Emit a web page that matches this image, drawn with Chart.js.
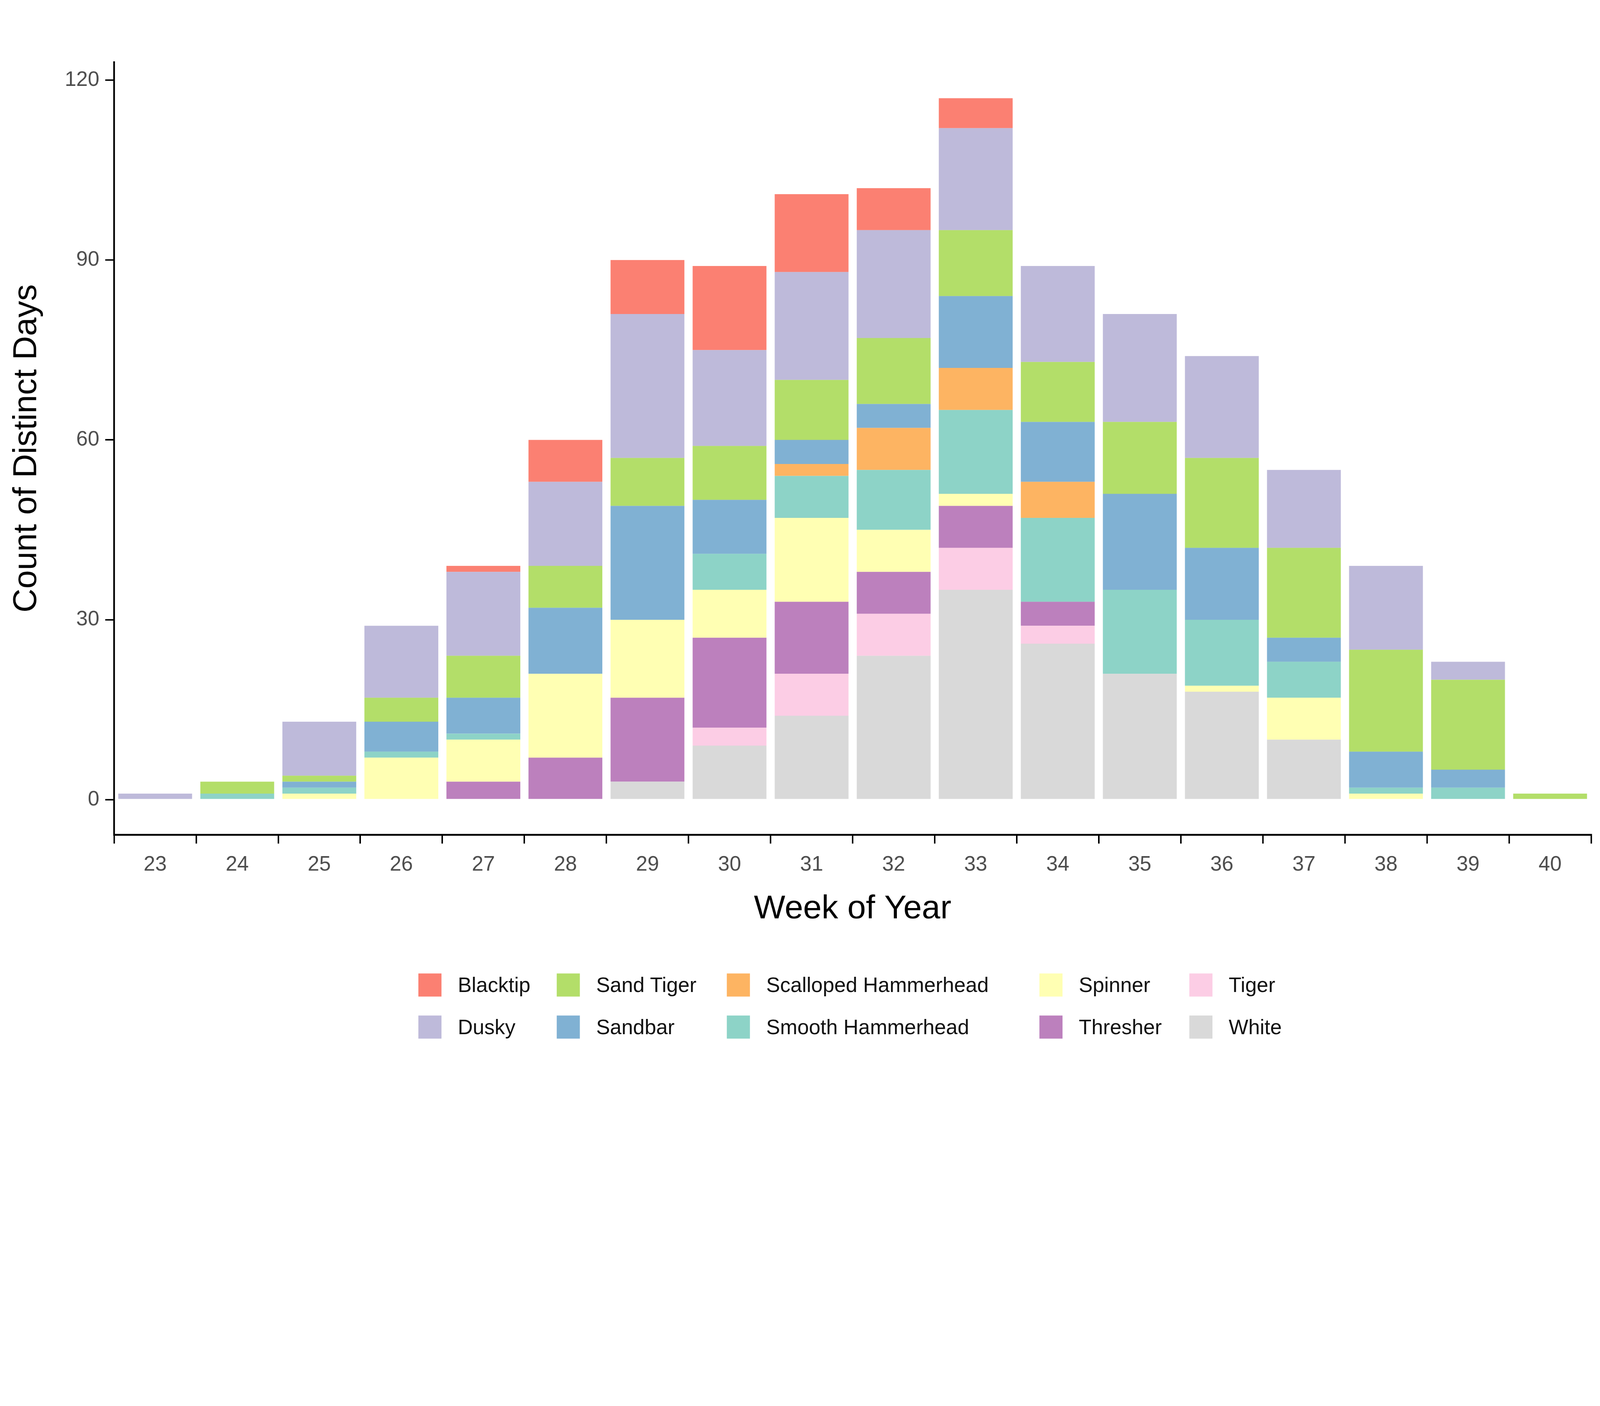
<!DOCTYPE html>
<html><head><meta charset="utf-8">
<script src="https://cdn.jsdelivr.net/npm/chart.js@4/dist/chart.umd.min.js"></script>
<style>
html,body{margin:0;background:#fff;overflow:hidden;}
#page{position:absolute;left:0;top:0;width:5400px;height:3600px;transform-origin:0 0;font-family:"Liberation Sans",Arial,sans-serif;background:#fff;}
#wrap{position:absolute;left:0;top:0;width:5400px;height:3160px;}
#legend{position:absolute;left:1412px;top:3285px;display:grid;grid-template-columns:467px 574px 1055px 506px 400px;row-gap:62px;}
.item{display:flex;align-items:center;font-size:70px;color:#111;height:80px;white-space:nowrap;}
.sw{width:78px;height:78px;margin-right:55px;flex:none;}
</style></head>
<body>
<div id="page">
<div id="wrap"><canvas id="chart" width="5400" height="3160"></canvas></div>
<div id="legend"></div>
</div>
<script>
const weeks = ["23","24","25","26","27","28","29","30","31","32","33","34","35","36","37","38","39","40"];
// bottom to top of each stack
const white      = [0,0,0,0,0,0,3,9,14,24,35,26,21,18,10,0,0,0];
const tiger      = [0,0,0,0,0,0,0,3,7,7,7,3,0,0,0,0,0,0];
const thresher   = [0,0,0,0,3,7,14,15,12,7,7,4,0,0,0,0,0,0];
const spinner    = [0,0,1,7,7,14,13,8,14,7,2,0,0,1,7,1,0,0];
const smoothHH   = [0,1,1,1,1,0,0,6,7,10,14,14,14,11,6,1,2,0];
const scallopHH  = [0,0,0,0,0,0,0,0,2,7,7,6,0,0,0,0,0,0];
const sandbar    = [0,0,1,5,6,11,19,9,4,4,12,10,16,12,4,6,3,0];
const sandTiger  = [0,2,1,4,7,7,8,9,10,11,11,10,12,15,15,17,15,1];
const dusky      = [1,0,9,12,14,14,24,16,18,18,17,16,18,17,13,14,3,0];
const blacktip   = [0,0,0,0,1,7,9,14,13,7,5,0,0,0,0,0,0,0];

const series = [
  ["White", white, "#D9D9D9"],
  ["Tiger", tiger, "#FCCDE5"],
  ["Thresher", thresher, "#BC80BD"],
  ["Spinner", spinner, "#FFFFB3"],
  ["Smooth Hammerhead", smoothHH, "#8DD3C7"],
  ["Scalloped Hammerhead", scallopHH, "#FDB462"],
  ["Sandbar", sandbar, "#80B1D3"],
  ["Sand Tiger", sandTiger, "#B3DE69"],
  ["Dusky", dusky, "#BEBADA"],
  ["Blacktip", blacktip, "#FB8072"]
];
const legendOrder = ["Blacktip","Sand Tiger","Scalloped Hammerhead","Spinner","Tiger","Dusky","Sandbar","Smooth Hammerhead","Thresher","White"];

// fit the 5400x3600 page into whatever viewport we get
const page = document.getElementById("page");
page.style.transform = "scale(" + (window.innerWidth / 5400) + ")";

const legend = document.getElementById("legend");
legendOrder.forEach((name) => {
  const s = series.find((d) => d[0] === name);
  legend.innerHTML += '<div class="item"><span class="sw" style="background:' + s[2] + '"></span>' + name + '</div>';
});

new Chart(document.getElementById("chart"), {
  type: "bar",
  data: {
    labels: weeks,
    datasets: series.map((s) => ({
      label: s[0], data: s[1], backgroundColor: s[2],
      barPercentage: 0.9, categoryPercentage: 1.0
    }))
  },
  options: {
    responsive: false, devicePixelRatio: 1, animation: false,
    layout: { padding: { left: 20, right: 30, top: 210, bottom: 20 } },
    plugins: { legend: { display: false }, tooltip: { enabled: false } },
    scales: {
      x: {
        stacked: true,
        grid: { display: true, drawOnChartArea: false, color: "#000", tickLength: 30, lineWidth: 5 },
        border: { color: "#000", width: 6 },
        ticks: { color: "#4d4d4d", font: { size: 70, family: "Liberation Sans" }, padding: 30 },
        title: { display: true, text: "Week of Year", color: "#000", font: { size: 112, family: "Liberation Sans" }, padding: { top: 10 } }
      },
      y: {
        stacked: true, min: -5.85, max: 123,
        afterBuildTicks: (axis) => { axis.ticks = [0,30,60,90,120].map((v) => ({ value: v })); },
        grid: { display: true, drawOnChartArea: false, color: "#000", tickLength: 30, lineWidth: 5 },
        border: { color: "#000", width: 6 },
        ticks: { color: "#4d4d4d", font: { size: 70, family: "Liberation Sans" }, padding: 20 },
        title: { display: true, text: "Count of Distinct Days", color: "#000", font: { size: 112, family: "Liberation Sans" }, padding: { bottom: 40 } }
      }
    }
  }
});
</script>
</body></html>
